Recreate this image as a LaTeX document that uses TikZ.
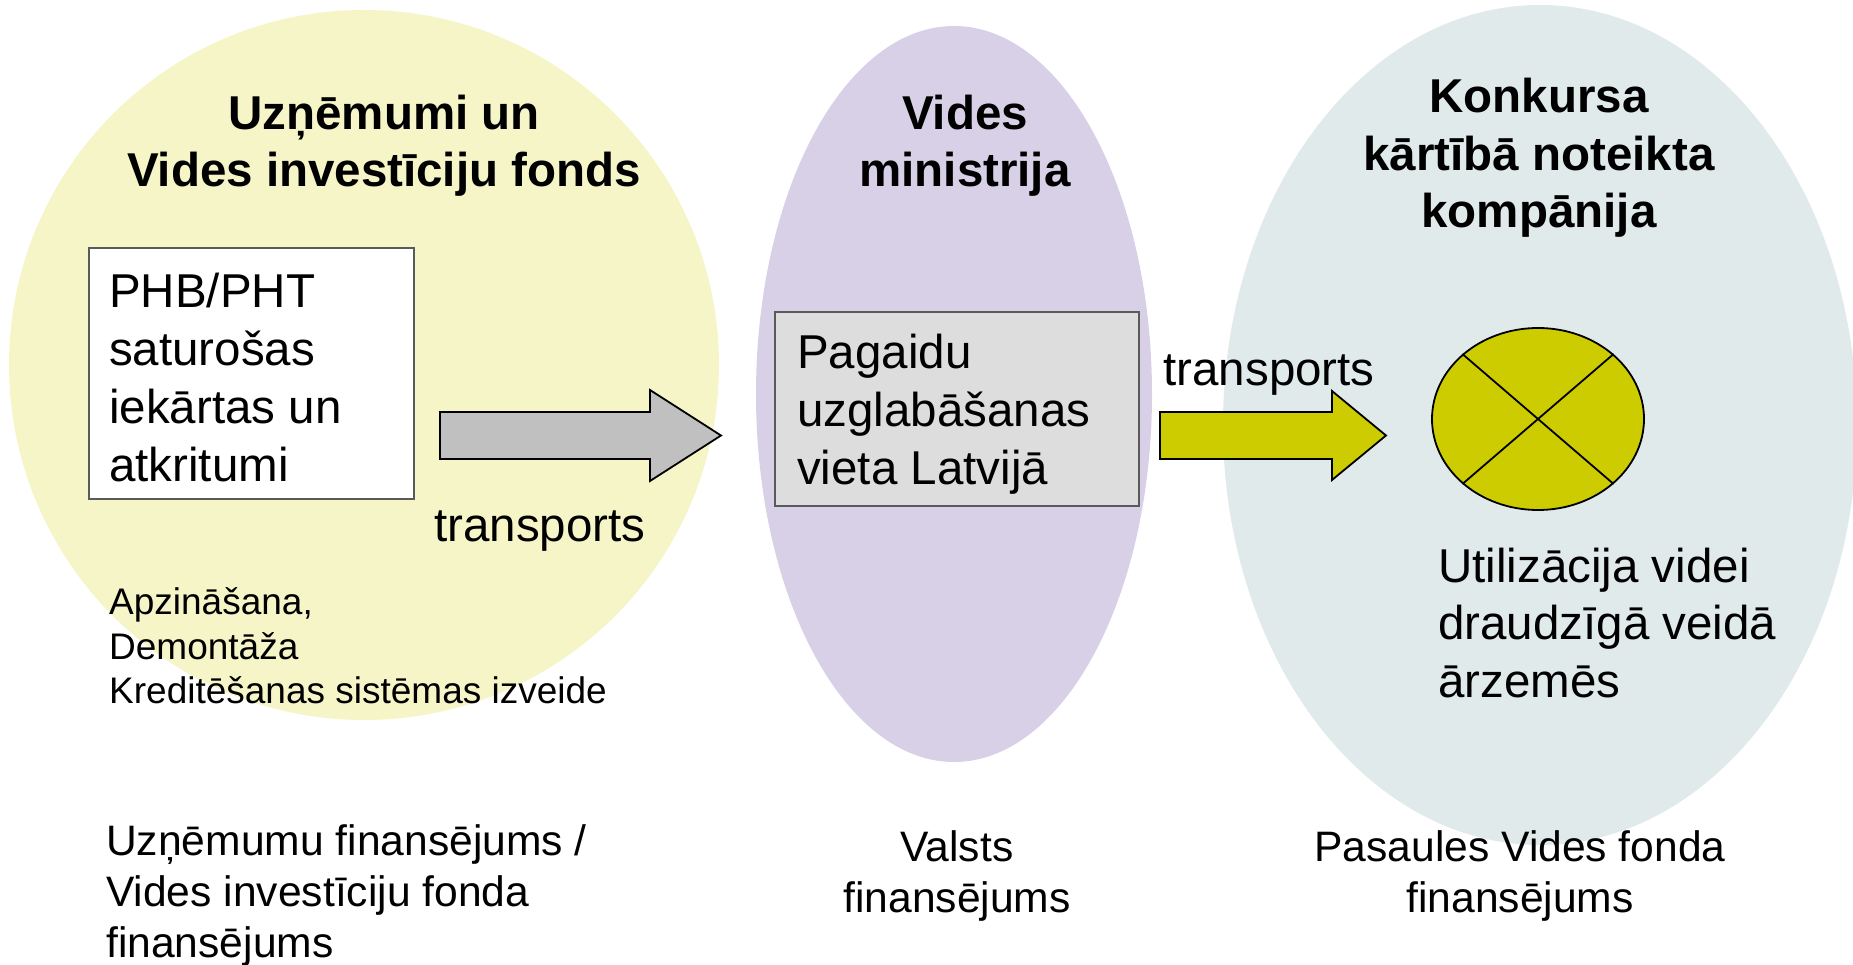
\documentclass[tikz,border=0pt]{standalone}
\usepackage{fontspec}
\setmainfont{Liberation Sans}
\usetikzlibrary{shapes.geometric}
\definecolor{zoneyellow}{RGB}{245,245,200}
\definecolor{zonepurple}{RGB}{216,208,230}
\definecolor{zoneblue}{RGB}{224,234,234}
\definecolor{arrowgray}{RGB}{192,192,192}
\definecolor{olivegreen}{RGB}{204,204,0}
\definecolor{boxgray}{RGB}{221,221,221}
\definecolor{edgegray}{RGB}{90,90,90}
\begin{document}
\begin{tikzpicture}[x=1pt,y=-1pt,
  zone/.style={ellipse, inner sep=0pt, draw=none},
  bigtxt/.style={font=\fontsize{47.5}{57.5}\selectfont, inner sep=0pt},
  titletxt/.style={font=\fontsize{47.5}{57.5}\selectfont\bfseries, inner sep=0pt, align=center},
  smalltxt/.style={font=\fontsize{37}{44.5}\selectfont, inner sep=0pt, align=left},
  midtxt/.style={font=\fontsize{42.6}{51}\selectfont, inner sep=0pt},
  boxtxt/.style={font=\fontsize{47.5}{58}\selectfont, inner sep=0pt, align=left, anchor=west},
  blockarrow/.style={draw=black, line width=1.8pt, line join=miter},
  framebox/.style={draw=edgegray, line width=1.2pt, inner sep=0pt}
]
\path[use as bounding box] (0,0) rectangle (1853,965);

% zones
\node[zone, fill=zoneyellow, minimum width=710, minimum height=710] (zone1) at (364,365) {};
\node[zone, fill=zonepurple, minimum width=396, minimum height=736] (zone2) at (954,394) {};
\node[zone, fill=zoneblue, minimum width=634, minimum height=840] (zone3) at (1540,425) {};

% titles
\node[titletxt] (title1) at (384,145.5) {Uzņēmumi un\\Vides investīciju fonds};
\node[titletxt] (title2) at (965,145.5) {Vides\\ministrija};
\node[titletxt] (title3) at (1539,158) {Konkursa\\kārtībā noteikta\\kompānija};

% boxes
\node[framebox, fill=white, minimum width=325, minimum height=251] (src) at (251.5,373.5) {};
\node[boxtxt] (srctext) at (109,378) {PHB/PHT\\saturošas\\iekārtas un\\atkritumi};
\node[framebox, fill=boxgray, minimum width=364, minimum height=194] (store) at (957,409) {};
\node[boxtxt] (storetext) at (797,414) {Pagaidu\\uzglabāšanas\\vieta Latvijā};

% block arrows
\draw[blockarrow, fill=arrowgray] (440,412) -- (650,412) -- (650,390) -- (721,435.5) -- (650,481) -- (650,459) -- (440,459) -- cycle;
\draw[blockarrow, fill=olivegreen] (1160,412) -- (1332,412) -- (1332,391) -- (1386,435.5) -- (1332,480) -- (1332,459) -- (1160,459) -- cycle;

\node[bigtxt] (trans1) at (540,531) {transports};
\node[bigtxt] (trans2) at (1269,375) {transports};

% disposal symbol
\node[ellipse, draw=black, line width=1.8pt, fill=olivegreen, inner sep=0pt, minimum width=212, minimum height=182] (disk) at (1538,419) {};
\draw[line width=1.8pt] (disk.north west) -- (disk.south east);
\draw[line width=1.8pt] (disk.north east) -- (disk.south west);

% descriptive texts
\node[smalltxt, anchor=west] (tasks) at (109,646) {Apzināšana,\\Demontāža\\Kreditēšanas sistēmas izveide};
\node[bigtxt, align=left, anchor=west] (util) at (1438,623) {Utilizācija videi\\draudzīgā veidā\\ārzemēs};

% financing
\node[midtxt, align=left, anchor=west] (fin1) at (106,895.5) {Uzņēmumu finansējums /\\Vides investīciju fonda\\finansējums};
\node[midtxt, align=center] (fin2) at (957,875.5) {Valsts\\finansējums};
\node[midtxt, align=center] (fin3) at (1520,875.5) {Pasaules Vides fonda\\finansējums};
\end{tikzpicture}
\end{document}
